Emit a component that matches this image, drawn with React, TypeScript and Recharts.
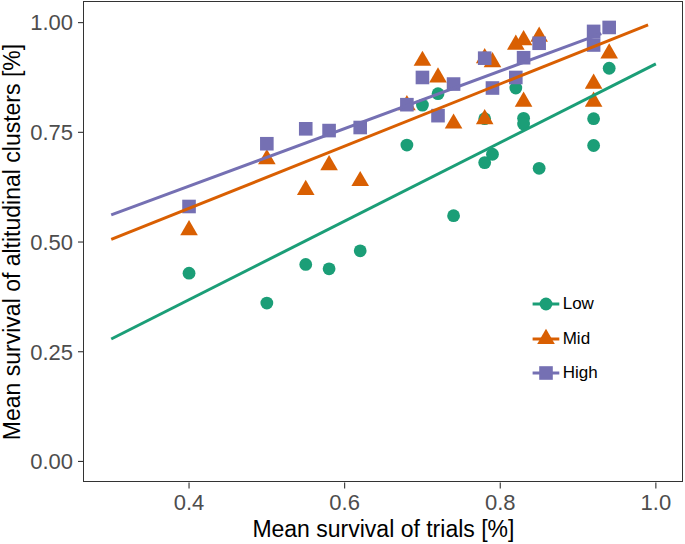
import React from 'react';
import { ScatterChart, Scatter, XAxis, YAxis } from 'recharts';

const GREEN = '#1B9E77';
const ORANGE = '#D95F02';
const PURPLE = '#7570B3';

const xTicks = [0.4, 0.6, 0.8, 1.0];
const yTicks = [0, 0.25, 0.5, 0.75, 1.0];
const xDomain = [0.265, 1.0345];
const yDomain = [-0.048, 1.047];

const lowX = [0.40, 0.50, 0.55, 0.58, 0.62, 0.68, 0.70, 0.72, 0.74, 0.78, 0.78, 0.79, 0.82, 0.83, 0.83, 0.85, 0.92, 0.92, 0.94];
const lowY = [0.429, 0.361, 0.449, 0.439, 0.480, 0.721, 0.812, 0.838, 0.560, 0.781, 0.681, 0.700, 0.851, 0.782, 0.769, 0.668, 0.781, 0.720, 0.896];

const midX = [0.40, 0.50, 0.55, 0.58, 0.62, 0.68, 0.70, 0.72, 0.74, 0.78, 0.79, 0.78, 0.82, 0.83, 0.85, 0.83, 0.92, 0.92, 0.94];
const midY = [0.527, 0.689, 0.619, 0.675, 0.639, 0.812, 0.913, 0.875, 0.770, 0.919, 0.910, 0.780, 0.950, 0.960, 0.968, 0.820, 0.861, 0.820, 0.930];

const highX = [0.40, 0.50, 0.55, 0.58, 0.62, 0.68, 0.70, 0.72, 0.74, 0.78, 0.79, 0.82, 0.83, 0.85, 0.92, 0.92, 0.94];
const highY = [0.581, 0.724, 0.758, 0.754, 0.761, 0.813, 0.875, 0.788, 0.860, 0.919, 0.851, 0.875, 0.920, 0.953, 0.980, 0.949, 0.989];

// fitted lines, end points only
const lowFitX = [0.30, 1.00];
const lowFitY = [0.279, 0.906];
const midFitX = [0.30, 0.99];
const midFitY = [0.506, 0.995];
const highFitX = [0.30, 0.93];
const highFitY = [0.562, 0.975];

const zip = (xs: number[], ys: number[]) => xs.map((x, i) => ({ x, y: ys[i] }));

const lowData = zip(lowX, lowY);
const midData = zip(midX, midY);
const highData = zip(highX, highY);
const lowFit = zip(lowFitX, lowFitY);
const midFit = zip(midFitX, midFitY);
const highFit = zip(highFitX, highFitY);

const FONT = '"Liberation Sans", Arial, sans-serif';

const Dot = ({ cx, cy, fill }: any) => <circle cx={cx} cy={cy} r={6.4} fill={fill} />;
const Square = ({ cx, cy, fill }: any) => (
  <rect x={cx - 6.8} y={cy - 6.8} width={13.6} height={13.6} fill={fill} />
);
const Tri = ({ cx, cy, fill }: any) => {
  const h = 15.2;
  const w = 17.6;
  return (
    <polygon
      points={`${cx},${cy - (2 * h) / 3} ${cx + w / 2},${cy + h / 3} ${cx - w / 2},${cy + h / 3}`}
      fill={fill}
    />
  );
};
const Nothing = () => <g />;

const legendItems = [
  { label: 'Low', color: GREEN, Shape: Dot, top: 304.3 },
  { label: 'Mid', color: ORANGE, Shape: Tri, top: 339 },
  { label: 'High', color: PURPLE, Shape: Square, top: 373.3 }
];

export default function App() {
  return (
    <div style={{ position: 'absolute', left: 0, top: 0, width: 685, height: 544, background: '#fff', fontFamily: FONT }}>
      <ScatterChart width={685} height={544} margin={{ top: 2, right: 2.3, bottom: 0, left: 0 }}>
        <XAxis
          type="number"
          dataKey="x"
          domain={xDomain}
          allowDataOverflow
          ticks={xTicks}
          tickFormatter={(v: number) => v.toFixed(1)}
          height={61.5}
          axisLine={false}
          tickLine={{ stroke: '#333', strokeWidth: 1.1 }}
          tickSize={6}
          tickMargin={6}
          tick={{ fill: '#4D4D4D', fontSize: 22, fontFamily: FONT }}
          label={() => (
            <text x={383.4} y={537} textAnchor="middle" fontSize={23} fill="#000" fontFamily={FONT}>
              Mean survival of trials [%]
            </text>
          )}
        />
        <YAxis
          type="number"
          dataKey="y"
          domain={yDomain}
          allowDataOverflow
          ticks={yTicks}
          tickFormatter={(v: number) => v.toFixed(2)}
          width={84}
          axisLine={false}
          tickLine={{ stroke: '#333', strokeWidth: 1.1 }}
          tickSize={6}
          tickMargin={5}
          tick={{ fill: '#4D4D4D', fontSize: 22, fontFamily: FONT }}
          label={() => (
            <text
              x={19.5}
              y={242}
              transform="rotate(-90 19.5 242)"
              textAnchor="middle"
              fontSize={23}
              fill="#000"
              fontFamily={FONT}
            >
              Mean survival of altitudinal clusters [%]
            </text>
          )}
        />
        <Scatter data={lowData} fill={GREEN} shape={Dot} isAnimationActive={false} />
        <Scatter data={midData} fill={ORANGE} shape={Tri} isAnimationActive={false} />
        <Scatter data={highData} fill={PURPLE} shape={Square} isAnimationActive={false} />
        <Scatter data={lowFit} shape={Nothing} line={{ stroke: GREEN, strokeWidth: 3 }} isAnimationActive={false} />
        <Scatter data={midFit} shape={Nothing} line={{ stroke: ORANGE, strokeWidth: 3 }} isAnimationActive={false} />
        <Scatter data={highFit} shape={Nothing} line={{ stroke: PURPLE, strokeWidth: 3 }} isAnimationActive={false} />
      </ScatterChart>
      {/* panel border */}
      <div
        style={{
          position: 'absolute',
          left: 83.4,
          top: 1.4,
          width: 599.3,
          height: 481.1,
          boxSizing: 'border-box',
          border: '1.2px solid #333',
          pointerEvents: 'none'
        }}
      />
      {legendItems.map(({ label, color, Shape, top }) => (
        <div key={label}>
          <svg
            width={30}
            height={20}
            style={{ position: 'absolute', left: 530.7, top: top - 10, overflow: 'visible' }}
          >
            <line x1={1.6} y1={10} x2={28.3} y2={10} stroke={color} strokeWidth={3} />
            <Shape cx={15} cy={10} fill={color} />
          </svg>
          <div
            style={{
              position: 'absolute',
              left: 562.7,
              top: top - 10,
              height: 20,
              lineHeight: '20px',
              fontSize: 17,
              color: '#000'
            }}
          >
            {label}
          </div>
        </div>
      ))}
    </div>
  );
}
